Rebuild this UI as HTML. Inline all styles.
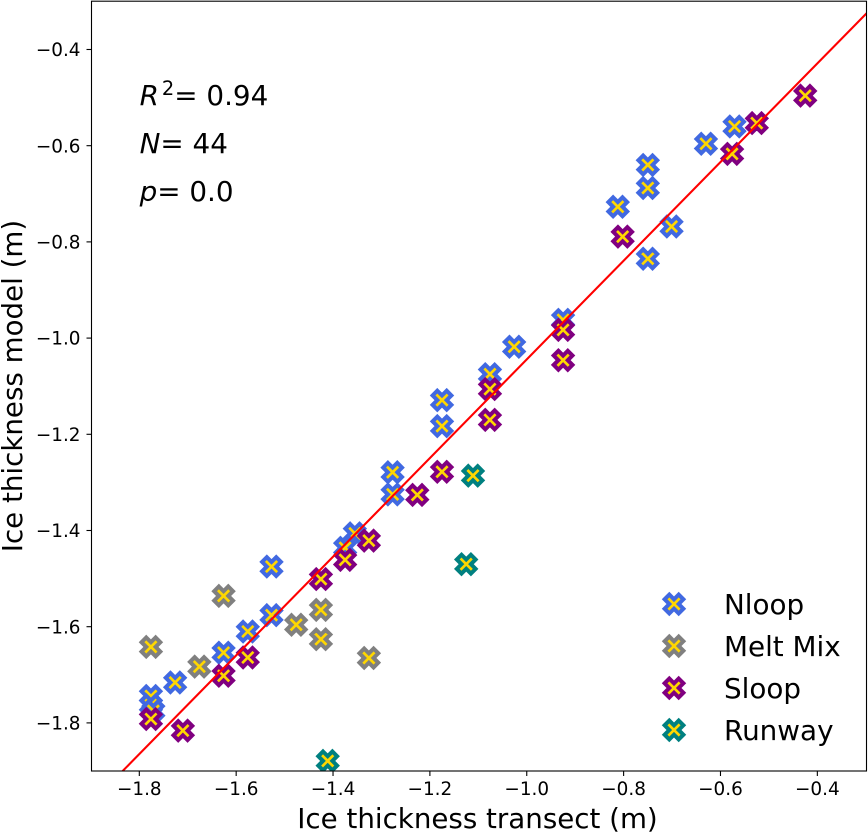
<!DOCTYPE html>
<html lang="en">
<head>
<meta charset="utf-8">
<title>Ice thickness scatter</title>
<style>
html,body{margin:0;padding:0;background:#fff;}
svg{display:block;}
text{font-family:"DejaVu Sans","Liberation Sans",sans-serif;fill:#000;}
.tick{font-size:18.4px;}
.axis-label{font-size:27.7px;}
.stat{font-size:27.8px;}
.legend-text{font-size:27.8px;}
i,.it{font-style:italic;}
</style>
</head>
<body>
<svg id="chart" width="868" height="832" viewBox="0 0 868 832" xmlns="http://www.w3.org/2000/svg">
  <defs>
    <clipPath id="plot-clip"><rect x="91.5" y="1.2" width="775" height="769.8"/></clipPath>
  </defs>
  <rect x="0" y="0" width="868" height="832" fill="#fff"/>
  <g id="marks" clip-path="url(#plot-clip)"></g>
  <rect x="91.5" y="1.2" width="775" height="769.8" fill="none" stroke="#000" stroke-width="1.1"/>
  <g id="xticks"></g>
  <g id="yticks"></g>
  <text class="axis-label" x="477.5" y="828" text-anchor="middle">Ice thickness transect (m)</text>
  <text class="axis-label" transform="translate(22,386) rotate(-90)" text-anchor="middle">Ice thickness model (m)</text>
  <text class="stat" x="139.6" y="105"><tspan class="it">R</tspan><tspan dx="3" dy="-10" font-size="19.4">2</tspan><tspan dy="10">= 0.94</tspan></text>
  <text class="stat" x="139.6" y="153"><tspan class="it">N</tspan>= 44</text>
  <text class="stat" x="139.6" y="201"><tspan class="it">p</tspan>= 0.0</text>
  <g id="legend"></g>
</svg>
<script>
var xTickValues = [-1.8, -1.6, -1.4, -1.2, -1.0, -0.8, -0.6, -0.4];
var xTickLabels = ["\u22121.8", "\u22121.6", "\u22121.4", "\u22121.2", "\u22121.0", "\u22120.8", "\u22120.6", "\u22120.4"];
var yTickValues = [-0.4, -0.6, -0.8, -1.0, -1.2, -1.4, -1.6, -1.8];
var yTickLabels = ["\u22120.4", "\u22120.6", "\u22120.8", "\u22121.0", "\u22121.2", "\u22121.4", "\u22121.6", "\u22121.8"];

var nloopX = [-1.776, -1.776, -1.771, -1.726, -1.626, -1.576, -1.527, -1.527, -1.355, -1.375, -1.277, -1.277, -1.175, -1.175, -1.076, -1.026, -0.925, -0.812, -0.750, -0.750, -0.750, -0.701, -0.630, -0.571];
var nloopY = [-1.744, -1.763, -1.775, -1.716, -1.654, -1.610, -1.576, -1.475, -1.406, -1.436, -1.279, -1.325, -1.129, -1.183, -1.075, -1.018, -0.962, -0.727, -0.688, -0.640, -0.835, -0.768, -0.596, -0.560];
var meltX = [-1.776, -1.676, -1.626, -1.476, -1.425, -1.425, -1.326];
var meltY = [-1.642, -1.683, -1.536, -1.596, -1.565, -1.626, -1.665];
var sloopX = [-1.776, -1.710, -1.626, -1.576, -1.425, -1.375, -1.326, -1.226, -1.175, -1.076, -1.076, -0.925, -0.925, -0.802, -0.576, -0.525, -0.425];
var sloopY = [-1.792, -1.816, -1.702, -1.664, -1.501, -1.461, -1.421, -1.326, -1.278, -1.106, -1.170, -0.983, -1.046, -0.789, -0.617, -0.553, -0.496];
var runwayX = [-1.411, -1.111, -1.125];
var runwayY = [-1.879, -1.286, -1.470];
var fitX = [-1.95, -0.25];
var fitY = [-2.0186, -0.2751];
var seriesNames = ["Nloop", "Melt Mix", "Sloop", "Runway"];

var NS = "http://www.w3.org/2000/svg";
var X_DOMAIN = [-1.8987, -0.2985], X_RANGE = [91.5, 866.5];
var Y_DOMAIN = [-1.9, -0.2992], Y_RANGE = [771, 1];
function xScale(v) { return X_RANGE[0] + (v - X_DOMAIN[0]) / (X_DOMAIN[1] - X_DOMAIN[0]) * (X_RANGE[1] - X_RANGE[0]); }
function yScale(v) { return Y_RANGE[0] + (v - Y_DOMAIN[0]) / (Y_DOMAIN[1] - Y_DOMAIN[0]) * (Y_RANGE[1] - Y_RANGE[0]); }

var UNIT = 4.7;
var SHAPE = [[-1,-2],[0,-1],[1,-2],[2,-1],[1,0],[2,1],[1,2],[0,1],[-1,2],[-2,1],[-1,0],[-2,-1]];
function markerPath(cx, cy) {
  var d = "";
  for (var i = 0; i < SHAPE.length; i++) {
    d += (i ? "L" : "M") + (cx + SHAPE[i][0] * UNIT).toFixed(2) + " " + (cy + SHAPE[i][1] * UNIT).toFixed(2);
  }
  return d + "Z";
}
function drawMarker(parent, cx, cy, color) {
  var p = document.createElementNS(NS, "path");
  p.setAttribute("d", markerPath(cx, cy));
  p.setAttribute("fill", "#ffd700");
  p.setAttribute("stroke", color);
  p.setAttribute("stroke-width", "4");
  p.setAttribute("stroke-linejoin", "miter");
  parent.appendChild(p);
  return p;
}

var marks = document.getElementById("marks");
var i, el;

for (i = 0; i < nloopX.length; i++) {
  el = drawMarker(marks, xScale(nloopX[i]), yScale(nloopY[i]), "#4169e1");
  
  
}
for (i = 0; i < meltX.length; i++) {
  el = drawMarker(marks, xScale(meltX[i]), yScale(meltY[i]), "#808080");
  
  
}
for (i = 0; i < sloopX.length; i++) {
  el = drawMarker(marks, xScale(sloopX[i]), yScale(sloopY[i]), "#800080");
  
  
}
for (i = 0; i < runwayX.length; i++) {
  el = drawMarker(marks, xScale(runwayX[i]), yScale(runwayY[i]), "#008080");
  
  
}

var fit = document.createElementNS(NS, "line");


fit.setAttribute("x1", xScale(fitX[0]));
fit.setAttribute("y1", yScale(fitY[0]));
fit.setAttribute("x2", xScale(fitX[1]));
fit.setAttribute("y2", yScale(fitY[1]));
fit.setAttribute("stroke", "#ff0000");
fit.setAttribute("stroke-width", "2.1");
marks.appendChild(fit);

var xticks = document.getElementById("xticks");
for (i = 0; i < xTickValues.length; i++) {
  var tx = xScale(xTickValues[i]);
  var xl = document.createElementNS(NS, "line");
  
  
  xl.setAttribute("x1", tx); xl.setAttribute("x2", tx);
  xl.setAttribute("y1", 771); xl.setAttribute("y2", 776);
  xl.setAttribute("stroke", "#000"); xl.setAttribute("stroke-width", "1.1");
  xticks.appendChild(xl);
  var xt = document.createElementNS(NS, "text");
  
  
  xt.setAttribute("class", "tick");
  xt.setAttribute("x", tx); xt.setAttribute("y", 795);
  xt.setAttribute("text-anchor", "middle");
  xt.textContent = xTickLabels[i];
  xticks.appendChild(xt);
}

var yticks = document.getElementById("yticks");
for (i = 0; i < yTickValues.length; i++) {
  var ty = yScale(yTickValues[i]);
  var yl = document.createElementNS(NS, "line");
  
  
  yl.setAttribute("x1", 86.5); yl.setAttribute("x2", 91.5);
  yl.setAttribute("y1", ty); yl.setAttribute("y2", ty);
  yl.setAttribute("stroke", "#000"); yl.setAttribute("stroke-width", "1.1");
  yticks.appendChild(yl);
  var yt = document.createElementNS(NS, "text");
  
  
  yt.setAttribute("class", "tick");
  yt.setAttribute("x", 80.5); yt.setAttribute("y", ty + 6.6);
  yt.setAttribute("text-anchor", "end");
  yt.textContent = yTickLabels[i];
  yticks.appendChild(yt);
}

var legend = document.getElementById("legend");
var legendColors = ["#4169e1", "#808080", "#800080", "#008080"];
for (i = 0; i < seriesNames.length; i++) {
  var ly = 604 + i * 42;
  el = drawMarker(legend, 674, ly, legendColors[i]);
  
  
  var lt = document.createElementNS(NS, "text");
  
  
  lt.setAttribute("class", "legend-text");
  lt.setAttribute("x", 724);
  lt.setAttribute("y", ly + 10);
  lt.textContent = seriesNames[i];
  legend.appendChild(lt);
}
</script>
</body>
</html>
